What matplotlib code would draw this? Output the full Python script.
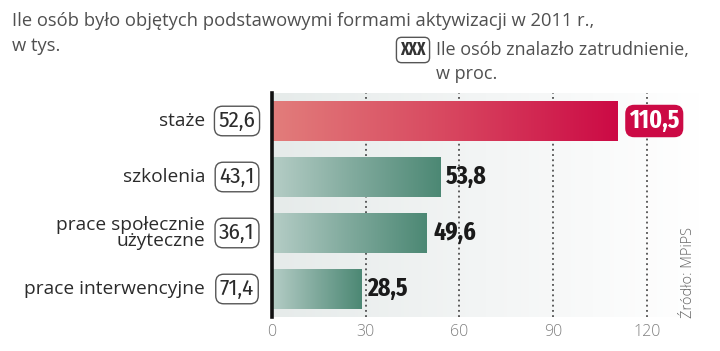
import numpy as np
import matplotlib
matplotlib.use("Agg")
import matplotlib.pyplot as plt
from matplotlib.colors import LinearSegmentedColormap

categories = ["staże", "szkolenia", "prace społecznie\nużyteczne", "prace interwencyjne"]
people_thousands = ["52,6", "43,1", "36,1", "71,4"]
employed_pct = [110.5, 53.8, 49.6, 28.5]
pct_labels = ["110,5", "53,8", "49,6", "28,5"]
ticks = [0, 30, 60, 90, 120]

plain = ["Open Sans", "DejaVu Sans"]
cond = ["Fira Sans Condensed", "DejaVu Sans"]
heavy = ["Fira Sans Extra Condensed", "DejaVu Sans"]
plt.rcParams["font.family"] = plain

W, H = 720, 351
fig = plt.figure(figsize=(W / 100, H / 100), dpi=100)
ax = fig.add_axes([272 / W, 1 - 317 / H, 428 / W, 224 / H])

xmax = 137
# background fading to white
bg = LinearSegmentedColormap.from_list("bg", ["#e6ebea", "#f3f5f5", "#ffffff"])
ax.imshow(np.linspace(0, 1, 256).reshape(1, -1), cmap=bg, aspect="auto",
          extent=(0, xmax, 3.5, -0.5), zorder=0)

for t in ticks[1:]:
    ax.axvline(t, color="#333333", lw=1.1, ls=(0, (1.2, 2.2)), zorder=1)

red = LinearSegmentedColormap.from_list("red", ["#e27d7b", "#d84860", "#cc0a45"])
green = LinearSegmentedColormap.from_list("green", ["#b5cdc6", "#7fa99c", "#4c8874"])

bars = ax.barh(range(len(categories)), employed_pct, height=0.72, color="none", zorder=2)
for i, b in enumerate(bars):
    x0, y0 = b.get_x(), b.get_y()
    w, h = b.get_width(), b.get_height()
    cm = red if i == 0 else green
    im = ax.imshow(np.linspace(0, 1, 256).reshape(1, -1), cmap=cm, aspect="auto",
                   extent=(x0, x0 + w, y0 + h, y0), zorder=2)
    im.set_clip_path(b)

ax.set_xlim(0, xmax)
ax.set_ylim(3.5, -0.5)

for i, (v, lab) in enumerate(zip(employed_pct, pct_labels)):
    if i == 0:
        ax.text(v + 3.8, i, lab, ha="left", va="center", fontsize=18.5, fontweight="bold",
                family=heavy, color="white", zorder=5,
                bbox=dict(boxstyle="round,pad=0.15,rounding_size=0.35", fc="#cc0a45", ec="none"))
    else:
        ax.text(v + 2.0, i, lab, ha="left", va="center", fontsize=18.5, fontweight="bold",
                family=heavy, color="#1a1a1a", zorder=5)

ytr = ax.get_yaxis_transform()
for i, (cat, num) in enumerate(zip(categories, people_thousands)):
    ax.text(-67 / 428, i, cat, transform=ytr, ha="right", va="center", fontsize=13.8,
            color="#2b2b2b", linespacing=0.92)
    ax.text(-35 / 428, i, num, transform=ytr, ha="center", va="center", fontsize=16.5,
            family=cond, color="#2b2b2b",
            bbox=dict(boxstyle="round,pad=0.18,rounding_size=0.35", fc="white", ec="#555555", lw=1))

for s in ["top", "right", "bottom"]:
    ax.spines[s].set_visible(False)
ax.spines["left"].set_color("#111111")
ax.spines["left"].set_linewidth(2.6)
ax.set_yticks([])
ax.set_xticks(ticks)
ax.set_xticklabels([str(t) for t in ticks], fontsize=11.5, color="#808080", fontweight="light")
ax.tick_params(axis="x", length=0, pad=5)

fig.text(12 / W, 1 - 21 / H, "Ile osób było objętych podstawowymi formami aktywizacji w 2011 r.,",
         fontsize=13.2, color="#505050", va="center")
fig.text(12 / W, 1 - 46 / H, "w tys.", fontsize=13.2, color="#505050", va="center")
fig.text(413 / W, 1 - 50 / H, "XXX", fontsize=12.5, fontweight="bold", family=heavy,
         color="#333333", ha="center", va="center",
         bbox=dict(boxstyle="round,pad=0.22,rounding_size=0.3", fc="white", ec="#555555", lw=1))
fig.text(436 / W, 1 - 50 / H, "Ile osób znalazło zatrudnienie,", fontsize=13,
         color="#505050", va="center")
fig.text(436 / W, 1 - 74 / H, "w proc.", fontsize=13, color="#505050", va="center")
fig.text(689 / W, 1 - 318 / H, "Źródło: MPiPS", rotation=90, fontsize=10.5,
         color="#666666", ha="center", va="bottom", fontweight="light")

fig.savefig("out.png", dpi=100)
